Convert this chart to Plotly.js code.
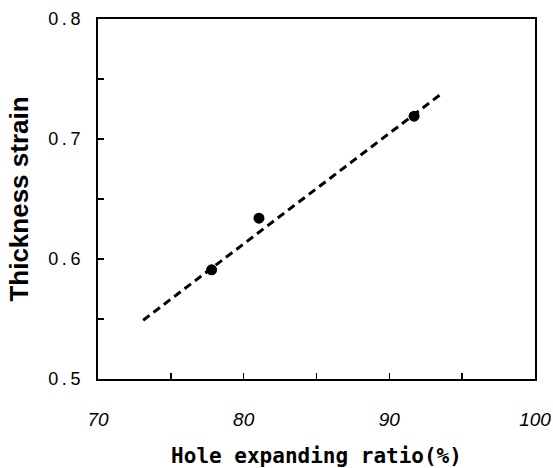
<!DOCTYPE html>
<html><head><meta charset="utf-8">
<script src="https://cdn.plot.ly/plotly-3.0.1.min.js"></script>
<style>html,body{margin:0;padding:0;background:#fff;}#chart{width:553px;height:468px;}</style>
</head><body><div id="chart"></div>
<script>
const holeRatio = [77.8, 81.05, 91.7];
const thicknessStrain = [0.591, 0.634, 0.719];
const fitX = [73.1, 93.5];
const fitY = [0.549, 0.737];
const xTickVals = [70, 80, 90, 100];
const xTickText = ['70', '80', '90', '100'];
const yTickVals = [0.5, 0.6, 0.7, 0.8];
const yTickText = ['0\u2009.\u20095', '0\u2009.\u20096', '0\u2009.\u20097', '0\u2009.\u20098'];

const traces = [
  {x: fitX, y: fitY, mode: 'lines', type: 'scatter', showlegend: false,
   line: {color: '#000', width: 3, dash: '8px,5px'}, hoverinfo: 'skip'},
  {x: holeRatio, y: thicknessStrain, mode: 'markers', type: 'scatter', showlegend: false,
   marker: {color: '#000', size: 11, symbol: 'circle'}}
];

const layout = {
  width: 553, height: 468,
  margin: {l: 98, r: 18, t: 19, b: 89},
  paper_bgcolor: '#fff', plot_bgcolor: '#fff',
  showlegend: false,
  xaxis: {
    range: [70, 100], showgrid: false, zeroline: false,
    showline: true, linecolor: '#000', linewidth: 2, mirror: true,
    ticks: 'inside', ticklen: 6, tickwidth: 1.5, tickcolor: '#000',
    tickvals: xTickVals, ticktext: xTickText,
    minor: {dtick: 5, tick0: 70, ticks: 'inside', ticklen: 6, tickwidth: 1.5, tickcolor: '#000', showgrid: false},
    ticklabelstandoff: 22,
    tickfont: {family: 'Liberation Sans, Arial, sans-serif', size: 19, color: '#000', style: 'italic'},
    title: {text: 'Hole expanding ratio(%)', standoff: 24,
            font: {family: 'DejaVu Sans Mono, monospace', size: 21, color: '#000', weight: 'bold'}}
  },
  yaxis: {
    range: [0.5, 0.8], showgrid: false, zeroline: false,
    showline: true, linecolor: '#000', linewidth: 2, mirror: true,
    ticks: 'inside', ticklen: 6, tickwidth: 1.5, tickcolor: '#000',
    tickvals: yTickVals, ticktext: yTickText,
    minor: {dtick: 0.05, tick0: 0.5, ticks: 'inside', ticklen: 6, tickwidth: 1.5, tickcolor: '#000', showgrid: false},
    ticklabelstandoff: 12,
    tickfont: {family: 'Liberation Sans, Arial, sans-serif', size: 18, color: '#000'},
    title: {text: 'Thickness strain\u00A0\u00A0\u00A0', standoff: 12,
            font: {family: 'Liberation Sans Narrow, Liberation Sans, Arial, sans-serif', size: 26, color: '#000', weight: 'bold'}}
  }
};

Plotly.newPlot('chart', traces, layout, {displayModeBar: false, staticPlot: true});
</script>
</body></html>
